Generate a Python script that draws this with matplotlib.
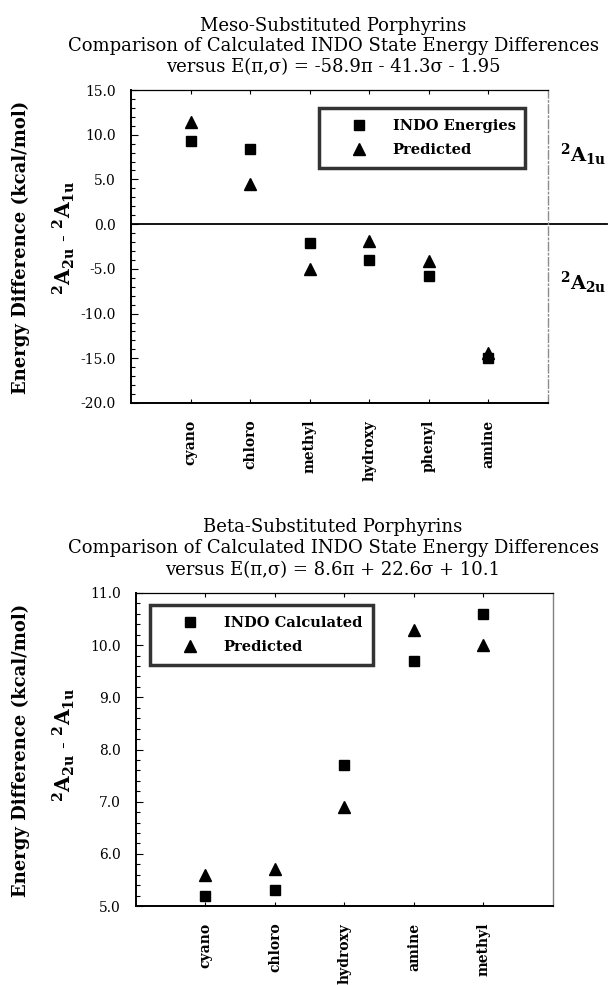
import numpy as np
import matplotlib
matplotlib.use("Agg")
import matplotlib.pyplot as plt
from matplotlib.ticker import MultipleLocator, FormatStrFormatter

plt.rcParams['font.family'] = ['DejaVu Serif']
plt.rcParams['mathtext.fontset'] = 'custom'
plt.rcParams['mathtext.rm'] = 'DejaVu Serif'
plt.rcParams['mathtext.bf'] = 'DejaVu Serif:bold'
plt.rcParams['mathtext.it'] = 'DejaVu Serif:italic'

# ---------------- data ----------------
meso_cats = ['cyano', 'chloro', 'methyl', 'hydroxy', 'phenyl', 'amine']
meso_indo = [9.3, 8.4, -2.1, -4.0, -5.8, -15.0]
meso_pred = [11.4, 4.5, -5.0, -1.9, -4.1, -14.4]

beta_cats = ['cyano', 'chloro', 'hydroxy', 'amine', 'methyl']
beta_indo = [5.2, 5.3, 7.7, 9.7, 10.6]
beta_pred = [5.6, 5.7, 6.9, 10.3, 10.0]

meso_title = ["Meso-Substituted Porphyrins",
              "Comparison of Calculated INDO State Energy Differences",
              "versus E(\u03c0,\u03c3) = -58.9\u03c0 - 41.3\u03c3 - 1.95"]
beta_title = ["Beta-Substituted Porphyrins",
              "Comparison of Calculated INDO State Energy Differences",
              "versus E(\u03c0,\u03c3) = 8.6\u03c0 + 22.6\u03c3 + 10.1"]

W, H = 609, 985
fig = plt.figure(figsize=(W / 100, H / 100), dpi=100)


def fx(px):
    return px / W


def fy(py):
    return 1 - py / H


def make_axes(l, r, t, b):
    return fig.add_axes([fx(l), fy(b), fx(r) - fx(l), fy(t) - fy(b)])


def style(ax, cats, indo, pred, ylim, major, minor, legend_labels, leg_box):
    x = np.arange(1, len(cats) + 1)
    ax.plot(x, indo, linestyle='none', marker='s', ms=7.5, color='black',
            label=legend_labels[0])
    ax.plot(x, pred, linestyle='none', marker='^', ms=8, color='black',
            label=legend_labels[1])
    ax.set_xlim(0, len(cats) + 1)
    ax.set_ylim(*ylim)
    ax.set_xticks(x)
    ax.set_xticklabels(cats, rotation=90, fontsize=10, fontweight='bold')
    ax.yaxis.set_major_locator(MultipleLocator(major))
    ax.yaxis.set_minor_locator(MultipleLocator(minor))
    ax.yaxis.set_major_formatter(FormatStrFormatter('%.1f'))
    ax.tick_params(axis='y', which='major', direction='in', length=5,
                   width=0.8, labelsize=10, pad=11)
    ax.tick_params(axis='y', which='minor', direction='in', length=3,
                   width=0.8)
    ax.tick_params(axis='x', which='major', direction='in', length=3,
                   width=0.8, top=True, pad=12)
    for s in ('left', 'bottom'):
        ax.spines[s].set_linewidth(1.4)
    ax.spines['top'].set_linewidth(0.9)
    leg = ax.legend(loc='upper left', bbox_to_anchor=leg_box, mode='expand',
                    frameon=True, fancybox=False, edgecolor='black',
                    prop={'weight': 'bold', 'size': 10.5}, borderpad=0.75,
                    handlelength=4.0, handletextpad=0.3, labelspacing=0.7,
                    borderaxespad=0)
    leg.get_frame().set_linewidth(2.5)
    return ax


# ---------- top panel ----------
ax1 = make_axes(131, 548, 90, 403)
lb1 = ((319 - 131) / 417, (403 - 108) / 313, (525 - 319) / 417, 0.0)
style(ax1, meso_cats, meso_indo, meso_pred, (-20, 15), 5, 1,
      ['INDO Energies', 'Predicted'], lb1)
ax1.spines['right'].set_linestyle((0, (6, 2, 1, 2)))
ax1.spines['right'].set_color('0.55')
ax1.spines['right'].set_linewidth(1.0)
ax1.axhline(0, xmin=0, xmax=(607 - 131) / 417, color='black', lw=1.3,
            clip_on=False)

fig.text(fx(583), fy(155), r'$^{\mathbf{2}}\mathbf{A}_{\mathbf{1u}}$',
         fontsize=14, ha='center', va='center')
fig.text(fx(583), fy(283), r'$^{\mathbf{2}}\mathbf{A}_{\mathbf{2u}}$',
         fontsize=14, ha='center', va='center')

# ---------- bottom panel ----------
ax2 = make_axes(136, 553, 593, 906)
lb2 = ((150 - 136) / 417, (906 - 605) / 313, (373 - 150) / 417, 0.0)
style(ax2, beta_cats, beta_indo, beta_pred, (5, 11), 1, 0.2,
      ['INDO Calculated', 'Predicted'], lb2)
ax2.spines['right'].set_color('0.5')
ax2.spines['right'].set_linewidth(1.0)

# ---------- y labels ----------
ylab2 = r'$^{\mathbf{2}}\mathbf{A}_{\mathbf{2u}}$ - $^{\mathbf{2}}\mathbf{A}_{\mathbf{1u}}$'
for cy in (247, 750):
    fig.text(fx(21), fy(cy), 'Energy Difference (kcal/mol)', rotation=90,
             fontsize=13, fontweight='bold', ha='center', va='center')
for cy in (238, 745):
    fig.text(fx(64), fy(cy), ylab2, rotation=90, fontsize=14.5,
             ha='center', va='center')

# ---------- titles ----------
for lines, ys in ((meso_title, (26, 46, 67)), (beta_title, (527, 548, 570))):
    for txt, yy in zip(lines, ys):
        fig.text(fx(333), fy(yy), txt, fontsize=13, ha='center', va='center')

fig.savefig('out.png', dpi=100)
